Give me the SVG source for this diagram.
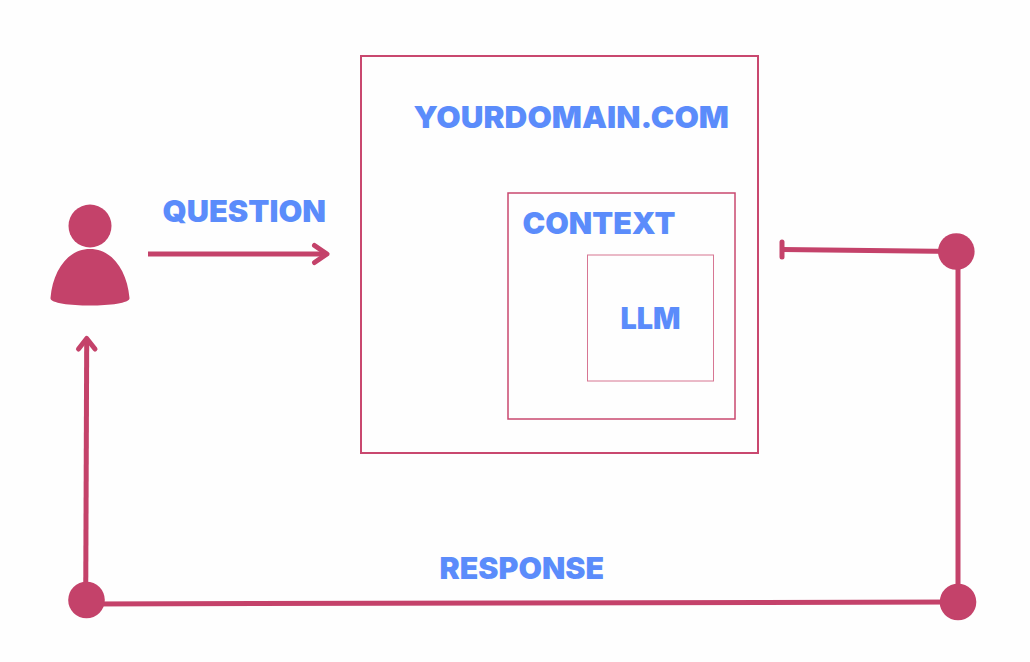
<svg xmlns="http://www.w3.org/2000/svg" width="1030" height="662" viewBox="0 0 1030 662">
<style>
.t{font-family:"Inter","Liberation Sans",sans-serif;font-weight:900;font-size:30px;fill:#5b8cfb}
.l{fill:none;stroke:#c4426a;stroke-width:5}
.h{fill:none;stroke:#c4426a;stroke-width:5;stroke-linecap:round;stroke-linejoin:round}
.d{fill:#c4426a}
.b{fill:none;stroke:#c9486f}
</style>
<rect width="1030" height="662" fill="#fefefe"/>
<g id="connectors">
<path class="l" d="M148 254H325"/>
<path class="h" d="M314.500 245.500L327 254L314.500 262.500"/>
<path class="l" d="M85.700 600L86.700 340"/>
<path class="h" d="M78.500 349L86.700 338.500L95 349"/>
<path class="l" d="M86.500 604L958 602"/>
<path class="l" d="M958 251V602"/>
<path class="l" d="M782 249.500L956 251.500"/>
<path class="h" d="M782 242V257"/>
</g>
<g id="user">
<circle class="d" cx="90" cy="226" r="21.500"/>
<path class="d" d="M50.500 298C53 270 68 249 90 249C112 249 127 270 129.500 298C130 303 110 305.500 90 305.500C70 305.500 50 303 50.500 298Z"/>
</g>
<g id="joint-top-right"><circle class="d" cx="956.300" cy="251.500" r="18.300"/></g>
<g id="joint-bottom-right"><circle class="d" cx="958" cy="602" r="18.300"/></g>
<g id="joint-bottom-left"><circle class="d" cx="86.500" cy="600" r="18.300"/></g>
<g id="yourdomain">
<rect class="b" x="361" y="56" width="397" height="397" stroke-width="2"/>
<text class="t" x="413.500" y="128" textLength="315.500" lengthAdjust="spacingAndGlyphs">YOURDOMAIN.COM</text>
</g>
<g id="context">
<rect class="b" x="508" y="193" width="227" height="226" stroke-width="1.500"/>
<text class="t" x="522.500" y="234" textLength="153" lengthAdjust="spacingAndGlyphs">CONTEXT</text>
</g>
<g id="llm">
<rect class="b" x="587.500" y="255" width="126" height="126" stroke-width="1" opacity=".75"/>
<text class="t" x="620.500" y="329" textLength="60" lengthAdjust="spacingAndGlyphs">LLM</text>
</g>
<g id="question"><text class="t" x="162.500" y="221.500" textLength="163.500" lengthAdjust="spacingAndGlyphs">QUESTION</text></g>
<g id="response"><text class="t" x="439.500" y="579" textLength="164.500" lengthAdjust="spacingAndGlyphs">RESPONSE</text></g>
</svg>
